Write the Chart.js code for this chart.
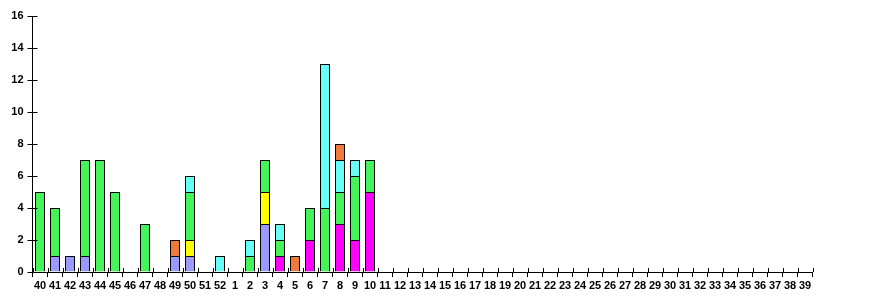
<!DOCTYPE html>
<html>
<head>
<meta charset="utf-8">
<script src="https://cdn.jsdelivr.net/npm/chart.js@4"></script>
<style>
html,body{margin:0;padding:0;background:#fff;}
#wrap{width:870px;height:300px;position:relative;}
</style>
</head>
<body>
<div id="wrap"><canvas id="c" width="870" height="300"></canvas></div>
<script>
const weeks = ['40','41','42','43','44','45','46','47','48','49','50','51','52','1','2','3','4','5','6','7','8','9','10','11','12','13','14','15','16','17','18','19','20','21','22','23','24','25','26','27','28','29','30','31','32','33','34','35','36','37','38','39'];
//                 40 41 42 43 44 45 46 47 48 49 50 51 52  1  2  3  4  5  6  7  8  9 10
const magenta  = [ 0, 0, 0, 0, 0, 0, 0, 0, 0, 0, 0, 0, 0, 0, 0, 0, 1, 0, 2, 0, 3, 2, 5];
const lavender = [ 0, 1, 1, 1, 0, 0, 0, 0, 0, 1, 1, 0, 0, 0, 0, 3, 0, 0, 0, 0, 0, 0, 0];
const yellow   = [ 0, 0, 0, 0, 0, 0, 0, 0, 0, 0, 1, 0, 0, 0, 0, 2, 0, 0, 0, 0, 0, 0, 0];
const green    = [ 5, 3, 0, 6, 7, 5, 0, 3, 0, 0, 3, 0, 0, 0, 1, 2, 1, 0, 2, 4, 2, 4, 2];
const cyan     = [ 0, 0, 0, 0, 0, 0, 0, 0, 0, 0, 1, 0, 1, 0, 1, 0, 1, 0, 0, 9, 2, 1, 0];
const orange   = [ 0, 0, 0, 0, 0, 0, 0, 0, 0, 1, 0, 0, 0, 0, 0, 0, 0, 1, 0, 0, 1, 0, 0];
const yTicks = [0,2,4,6,8,10,12,14,16];

function pad(a){ const r = a.map(v => v === 0 ? null : v); while(r.length < weeks.length) r.push(null); return r; }
function ds(label, data, color){
  return {label, data: pad(data), backgroundColor: color, borderColor: '#000', borderWidth: 1,
          borderSkipped: 'start', inflateAmount: 0, barPercentage: 10/15, categoryPercentage: 1.0, stack: 's'};
}

const crossTicks = {
  id: 'crossTicks',
  afterDraw(chart){
    const ctx = chart.ctx, x = chart.scales.x, y = chart.scales.y;
    ctx.save();
    ctx.strokeStyle = '#000'; ctx.lineWidth = 1;
    ctx.beginPath();
    const n = x.ticks.length;
    for (let i = 0; i <= n; i++) {
      const px = Math.round(x.left + (x.right - x.left) * i / n) + 0.5;
      ctx.moveTo(px, x.top - 4); ctx.lineTo(px, x.top);
    }
    y.ticks.forEach((t, i) => {
      const py = Math.round(y.getPixelForTick(i)) + 0.5;
      ctx.moveTo(y.right, py); ctx.lineTo(y.right + 5, py);
    });
    ctx.stroke();
    ctx.restore();
  }
};

const font = {family: '"Liberation Sans", Arial, sans-serif', size: 11, weight: 'bold'};

new Chart(document.getElementById('c'), {
  type: 'bar',
  data: {
    labels: weeks,
    datasets: [
      ds('magenta', magenta, '#ff00ff'),
      ds('lavender', lavender, '#9999ff'),
      ds('yellow', yellow, '#ffff00'),
      ds('green', green, '#44f55a'),
      ds('cyan', cyan, '#66fff5'),
      ds('orange', orange, '#f07a3c')
    ]
  },
  options: {
    responsive: false,
    animation: false,
    devicePixelRatio: 1,
    layout: {padding: {top: 16, right: 57.5, left: 0.5, bottom: 0}},
    plugins: {legend: {display: false}, tooltip: {enabled: false}},
    scales: {
      x: {
        stacked: true,
        offset: true,
        grid: {display: true, offset: true, drawOnChartArea: false, drawTicks: true, tickLength: 5, color: '#000', lineWidth: 1},
        border: {display: true, color: '#000', width: 1},
        ticks: {autoSkip: false, maxRotation: 0, minRotation: 0, color: '#000', font: font, padding: 2},
        afterFit(s){ s.height = 28; }
      },
      y: {
        stacked: true,
        min: 0, max: 16,
        afterBuildTicks(s){ s.ticks = yTicks.map(v => ({value: v})); },
        grid: {display: true, drawOnChartArea: false, drawTicks: true, tickLength: 5, color: '#000', lineWidth: 1},
        border: {display: true, color: '#000', width: 1},
        ticks: {color: '#000', font: font, padding: 4},
        afterFit(s){ s.width = 32; }
      }
    }
  },
  plugins: [crossTicks]
});
</script>
</body>
</html>
